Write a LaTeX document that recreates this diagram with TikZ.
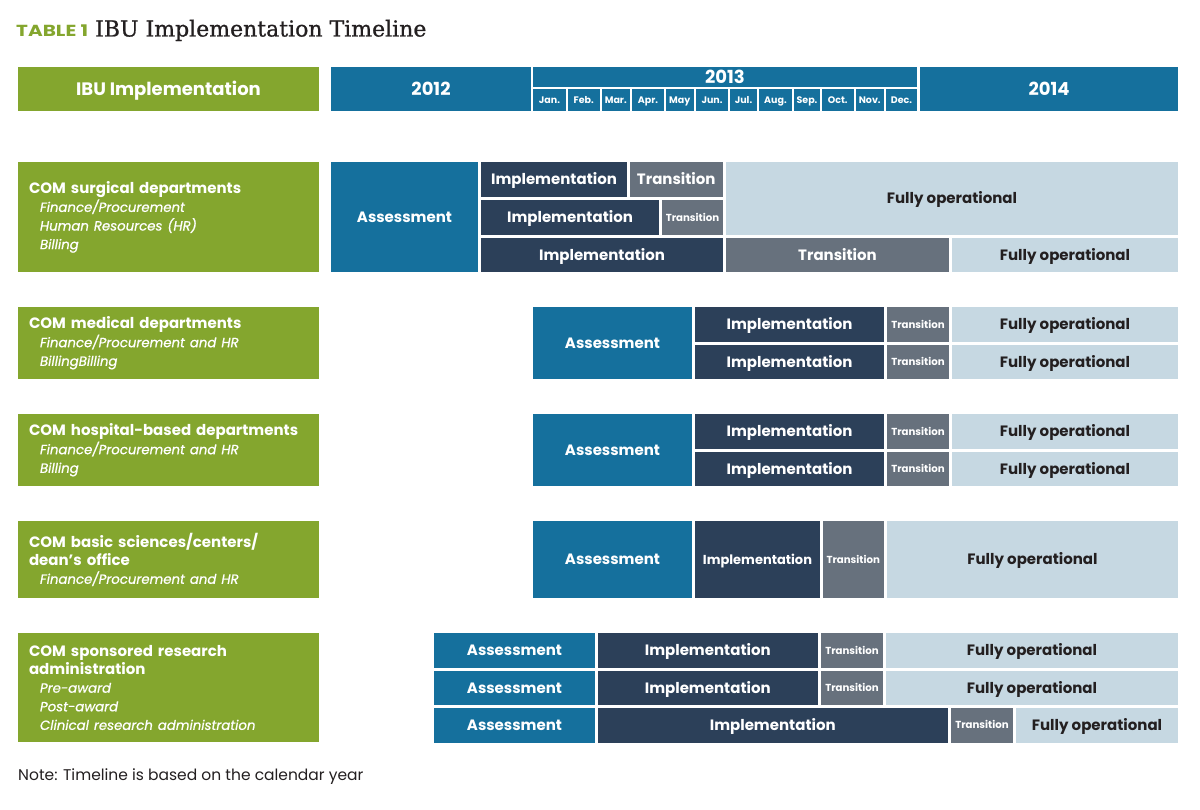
\documentclass[tikz,border=0pt]{standalone}
\usepackage{fontspec}
\setmainfont{Poppins}[ItalicFeatures={FakeBold=0.8}]
\newfontfamily\titlefont{DejaVu Serif}[FakeBold=0.9]
\definecolor{ibugreen}{HTML}{84A62E}
\definecolor{ibublue}{HTML}{15709D}
\definecolor{ibunavy}{HTML}{2C4059}
\definecolor{ibugray}{HTML}{67717D}
\definecolor{ibulight}{HTML}{C6D8E2}
\definecolor{ibutext}{HTML}{231F20}
\tikzset{
  cellbase/.style={anchor=north west, inner sep=0pt, outer sep=0pt, align=center,
    font=\bfseries\fontsize{15}{18}\selectfont, text height=10.6pt, text depth=0pt},
  bluecell/.style={cellbase, fill=ibublue, text=white},
  navycell/.style={cellbase, fill=ibunavy, text=white},
  graycell/.style={cellbase, fill=ibugray, text=white},
  lightcell/.style={cellbase, fill=ibulight, text=ibutext},
  greencell/.style={cellbase, fill=ibugreen, text=white},
  headtext/.style={font=\bfseries\fontsize{18}{20}\selectfont, text height=12.6pt},
  small/.style={font=\bfseries\fontsize{10.2}{12}\selectfont, text height=7.2pt},
  month/.style={font=\bfseries\fontsize{9.5}{11}\selectfont, text height=6.7pt},
  mid/.style={font=\bfseries\fontsize{13}{16}\selectfont, text height=9.2pt},
  grplabel/.style={anchor=north west, inner ysep=0pt, inner xsep=11pt, outer sep=0pt,
    fill=ibugreen, text=white, align=left, text width=279pt,
    font=\bfseries\fontsize{15}{18}\selectfont},
}
\newcommand\cell[7]{\node[#2, minimum width={#5-#3}, minimum height={#6-#4}] (#1) at (#3,#4) {#7};}
\newcommand\grp[6]{\node[grplabel, minimum height={#5-#3}] (#1) at (#2,#3) {#6};}
\newcommand\sub[1]{\\[0.6pt]\hspace*{11pt}{\mdseries\itshape\fontsize{13.3}{18}\selectfont #1}}
\begin{document}
\begin{tikzpicture}[x=1pt,y=-1pt]
\useasboundingbox[fill=white] (0,0) rectangle (1200,810);
% title
\node[anchor=base west, inner sep=0pt, text=ibugreen, font=\bfseries\fontsize{16}{18}\selectfont, xscale=1.25] (tab) at (16,36.5) {TABLE 1};
\node[anchor=base west, inner sep=0pt, text=ibutext, font=\titlefont\fontsize{22}{26}\selectfont] (title) at (95,36.5) {IBU Implementation Timeline};
% header
\cell{hdr}{greencell,headtext}{18}{67}{319}{111}{IBU Implementation}
\cell{y12}{bluecell,headtext}{331}{67}{531}{111}{2012}
\cell{y13}{bluecell,headtext}{533}{67}{917}{87}{2013}
\cell{y14}{bluecell,headtext}{920}{67}{1178}{111}{2014}
\cell{m1}{bluecell,month}{533}{89}{566}{111}{Jan.}
\cell{m2}{bluecell,month}{568}{89}{599.5}{111}{Feb.}
\cell{m3}{bluecell,month}{601.5}{89}{630}{111}{Mar.}
\cell{m4}{bluecell,month}{632}{89}{664}{111}{Apr.}
\cell{m5}{bluecell,month}{665.5}{89}{694}{111}{May}
\cell{m6}{bluecell,month}{696}{89}{728}{111}{Jun.}
\cell{m7}{bluecell,month}{730}{89}{757}{111}{Jul.}
\cell{m8}{bluecell,month}{759}{89}{792}{111}{Aug.}
\cell{m9}{bluecell,month}{794}{89}{820}{111}{Sep.}
\cell{m10}{bluecell,month}{822}{89}{853.5}{111}{Oct.}
\cell{m11}{bluecell,month}{855.5}{89}{884}{111}{Nov.}
\cell{m12}{bluecell,month}{886}{89}{917}{111}{Dec.}
% group 1
\grp{g1}{18}{162}{319}{272}{COM surgical departments\sub{Finance/Procurement}\sub{Human Resources (HR)}\sub{Billing}}
\cell{a1}{bluecell}{331}{162}{478}{272}{Assessment}
\cell{i1a}{navycell}{481}{162}{627}{197}{Implementation}
\cell{t1a}{graycell}{629.5}{162}{723}{197}{Transition}
\cell{f1}{lightcell}{726}{162}{1178}{235}{Fully operational}
\cell{i1b}{navycell}{481}{200}{659}{235}{Implementation}
\cell{t1b}{graycell,small}{662}{200}{723}{235}{Transition}
\cell{i1c}{navycell}{481}{238}{723}{272}{Implementation}
\cell{t1c}{graycell}{726}{238}{949}{272}{Transition}
\cell{f1c}{lightcell}{952}{238}{1178}{272}{Fully operational}
% group 2
\grp{g2}{18}{307}{319}{379}{COM medical departments\sub{Finance/Procurement and HR}\sub{BillingBilling}}
\cell{a2}{bluecell}{533}{307}{692}{379}{Assessment}
\cell{i2a}{navycell}{695}{307}{884}{342}{Implementation}
\cell{t2a}{graycell,small}{887}{307}{949}{342}{Transition}
\cell{f2a}{lightcell}{952}{307}{1178}{342}{Fully operational}
\cell{i2b}{navycell}{695}{345}{884}{379}{Implementation}
\cell{t2b}{graycell,small}{887}{345}{949}{379}{Transition}
\cell{f2b}{lightcell}{952}{345}{1178}{379}{Fully operational}
% group 3
\grp{g3}{18}{414}{319}{486}{COM hospital-based departments\sub{Finance/Procurement and HR}\sub{Billing}}
\cell{a3}{bluecell}{533}{414}{692}{486}{Assessment}
\cell{i3a}{navycell}{695}{414}{884}{449}{Implementation}
\cell{t3a}{graycell,small}{887}{414}{949}{449}{Transition}
\cell{f3a}{lightcell}{952}{414}{1178}{449}{Fully operational}
\cell{i3b}{navycell}{695}{451.5}{884}{486}{Implementation}
\cell{t3b}{graycell,small}{887}{451.5}{949}{486}{Transition}
\cell{f3b}{lightcell}{952}{451.5}{1178}{486}{Fully operational}
% group 4
\grp{g4}{18}{521}{319}{598}{COM basic sciences/centers/\\dean’s office\sub{Finance/Procurement and HR}}
\cell{a4}{bluecell}{533}{521}{692}{598}{Assessment}
\cell{i4}{navycell,mid}{695}{521}{820}{598}{Implementation}
\cell{t4}{graycell,small}{822.5}{521}{884}{598}{Transition}
\cell{f4}{lightcell}{887}{521}{1178}{598}{Fully operational}
% group 5
\grp{g5}{18}{633}{319}{742}{COM sponsored research\\administration\sub{Pre-award}\sub{Post-award}\sub{Clinical research administration}}
\cell{a5a}{bluecell}{434}{633}{595}{668}{Assessment}
\cell{i5a}{navycell}{597.5}{633}{818}{668}{Implementation}
\cell{t5a}{graycell,small}{821}{633}{883}{668}{Transition}
\cell{f5a}{lightcell}{886}{633}{1178}{668}{Fully operational}
\cell{a5b}{bluecell}{434}{671}{595}{705}{Assessment}
\cell{i5b}{navycell}{597.5}{671}{818}{705}{Implementation}
\cell{t5b}{graycell,small}{821}{671}{883}{705}{Transition}
\cell{f5b}{lightcell}{886}{671}{1178}{705}{Fully operational}
\cell{a5c}{bluecell}{434}{708}{595}{742.5}{Assessment}
\cell{i5c}{navycell}{597.5}{708}{948}{742.5}{Implementation}
\cell{t5c}{graycell,small}{951}{708}{1013}{742.5}{Transition}
\cell{f5c}{lightcell}{1016}{708}{1178}{742.5}{Fully operational}
% note
\node[anchor=base west, inner sep=0pt, text=ibutext, font=\fontsize{15.5}{18}\selectfont] (note) at (18,780.5) {Note: Timeline is based on the calendar year};
\end{tikzpicture}
\end{document}
